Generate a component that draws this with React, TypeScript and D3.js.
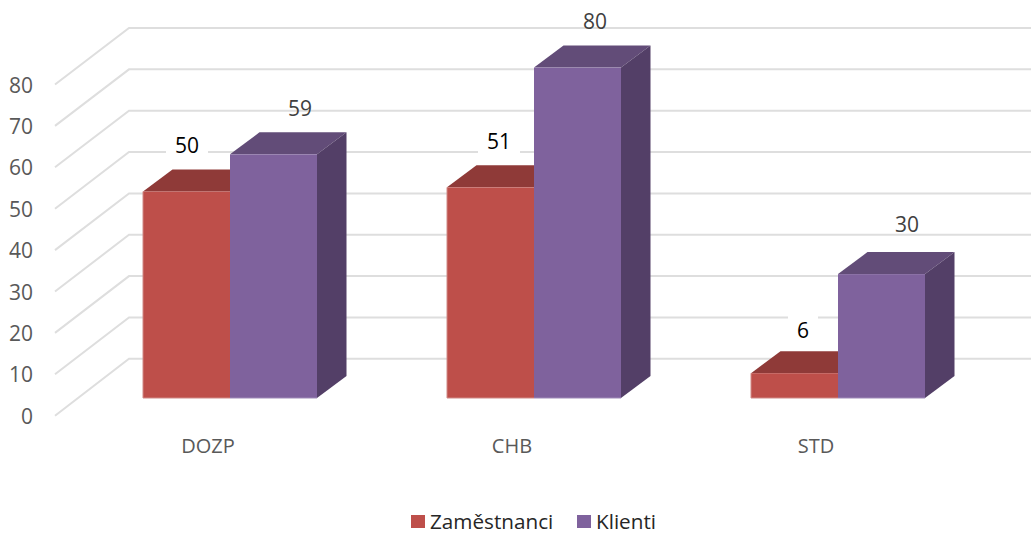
import React from "react";
import * as d3 from "d3";

const categories = ["DOZP", "CHB", "STD"];
const seriesNames = ["Zaměstnanci", "Klienti"];
const zamestnanci = [50, 51, 6];
const klienti = [59, 80, 30];
const ticks = [0, 10, 20, 30, 40, 50, 60, 70, 80];

const W = 1031, H = 534;
const FONT = "'Open Sans', sans-serif";
const colors = [
  { front: "#BE4F4A", top: "#8F3A38", side: "#7A3230", edge: "#D08A86" },
  { front: "#7F629D", top: "#624C78", side: "#533F67", edge: "#A08BB8" },
];
// manual label placement (offset from bar's top-front centre)
const labelDx = [[0.5, 8.5, 8.5], [26.5, 17.5, 25.5]];
const labelDy = [[-46.5, -46.5, -43.5], [-46, -46.5, -50]];
const labelFill = ["#000000", "#404040"];

const x = d3.scaleBand<string>().domain(categories).range([78, 990]).paddingInner(130 / 304).paddingOuter(65 / 304);
const xs = d3.scaleBand<string>().domain(seriesNames).range([0, x.bandwidth()]);
const y = d3.scaleLinear().domain([0, 80]).range([398, 67.6]);
const yFront = d3.scaleLinear().domain([0, 80]).range([415.7, 84.5]);
const yBack = d3.scaleLinear().domain([0, 80]).range([358.8, 28]);
const depthX = 29.5, depthY = 22;

const poly = d3.line<[number, number]>();

export default function App() {
  const data = [zamestnanci, klienti];
  return (
    <svg width={W} height={H} viewBox={`0 0 ${W} ${H}`}
      style={{ position: "absolute", left: 0, top: 0, background: "#fff" }} fontFamily={FONT}>
      {ticks.map((t) => (
        <g key={t}>
          <path d={poly([[55, yFront(t)], [129, yBack(t)], [W, yBack(t)]])!} fill="none" stroke="#DEDEDE" strokeWidth={2} />
          <text x={33} y={yFront(t)} textAnchor="end" dominantBaseline="central" fontSize={21} fill="#595959">{t}</text>
        </g>
      ))}
      {categories.map((c, i) => (
        <g key={c}>
          {seriesNames.map((s, j) => {
            const x0 = x(c)! + xs(s)!, x1 = x0 + xs.bandwidth();
            const yt = y(data[j][i]), yb = y(0);
            const col = colors[j];
            return (
              <g key={s}>
                <path d={poly([[x0, yt], [x0 + depthX, yt - depthY], [x1 + depthX, yt - depthY], [x1, yt]])! + "Z"} fill={col.top} />
                <path d={poly([[x1, yt], [x1 + depthX, yt - depthY], [x1 + depthX, yb - depthY], [x1, yb]])! + "Z"} fill={col.side} />
                <rect x={x0} y={yt} width={x1 - x0} height={yb - yt} fill={col.front} />
                <path d={poly(j === 0 ? [[x0, yt], [x0, yb], [x1, yb]] : [[x0, yb], [x1, yb]])!} fill="none" stroke={col.edge} strokeWidth={1} />
              </g>
            );
          })}
          <text x={x(c)! + x.bandwidth() / 2 - 22} y={445.7} textAnchor="middle" dominantBaseline="central" fontSize={20} fill="#595959">{c}</text>
        </g>
      ))}
      {categories.map((c, i) =>
        seriesNames.map((s, j) => {
          const v = data[j][i];
          const cx = x(c)! + xs(s)! + xs.bandwidth() / 2 + labelDx[j][i];
          const cy = y(v) + labelDy[j][i];
          const w = String(v).length > 1 ? 42 : 30;
          return (
            <g key={c + s}>
              {j === 0 && <rect x={cx - w / 2} y={cy - 14} width={w} height={28} fill="#fff" />}
              <text x={cx} y={cy} textAnchor="middle" dominantBaseline="central" fontSize={21} fill={labelFill[j]}>{v}</text>
            </g>
          );
        })
      )}
      {seriesNames.map((s, j) => {
        const lx = [411, 577][j];
        return (
          <g key={s}>
            <rect x={lx} y={515} width={14} height={13} fill={colors[j].front} />
            <text x={lx + 19} y={521} dominantBaseline="central" fontSize={20.7} fill="#262626">{s}</text>
          </g>
        );
      })}
    </svg>
  );
}
